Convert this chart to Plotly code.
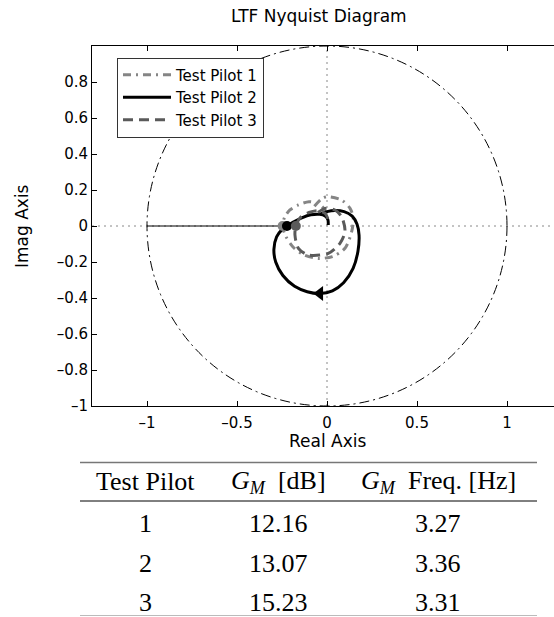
import plotly.graph_objects as go

# ---------------- data ----------------
pilots = ["Test Pilot 1", "Test Pilot 2", "Test Pilot 3"]

p1_re = [-0.07, -0.03, 0.00, 0.081, 0.128, 0.146, 0.137, 0.10, 0.03, -0.05, -0.13, -0.19, -0.23,
         -0.2466, -0.235, -0.206, -0.159, -0.10, -0.05, -0.02, -0.005]
p1_im = [0.11, 0.15, 0.163, 0.144, 0.098, 0.043, -0.031, -0.124, -0.17, -0.18, -0.16, -0.115, -0.055,
         0.0, 0.05, 0.089, 0.117, 0.135, 0.125, 0.10, 0.07]

p2_re = [-0.04, 0.00, 0.044, 0.095, 0.14, 0.167, 0.178, 0.172, 0.145, 0.092, 0.03, -0.04, -0.11, -0.18,
         -0.245, -0.285, -0.295, -0.28, -0.25, -0.2224, -0.19, -0.14, -0.09, -0.04, -0.01, 0.005, 0.007]
p2_im = [0.066, 0.08, 0.086, 0.08, 0.055, 0.01, -0.05, -0.14, -0.235, -0.315, -0.36, -0.375, -0.365, -0.335,
         -0.275, -0.20, -0.13, -0.06, -0.02, 0.0, 0.02, 0.045, 0.062, 0.065, 0.055, 0.035, 0.006]

p3_re = [-0.05, -0.011, 0.044, 0.081, 0.10, 0.072, 0.007, -0.104, -0.159, -0.178, -0.1731,
         -0.15, -0.10, -0.05, -0.01, 0.005]
p3_im = [0.075, 0.098, 0.089, 0.052, -0.031, -0.096, -0.152, -0.161, -0.124, -0.05, 0.0,
         0.045, 0.075, 0.085, 0.07, 0.04]

cross_re = [-0.2466, -0.2224, -0.1731]   # gain-margin crossings
arrow_re = [-0.04]
arrow_im = [-0.375]

x_tickvals = [-1, -0.5, 0, 0.5, 1]
x_ticktext = ["\u20131", "\u20130.5", "0", "0.5", "1"]
y_tickvals = [-1, -0.8, -0.6, -0.4, -0.2, 0, 0.2, 0.4, 0.6, 0.8]
y_ticktext = ["\u20131", "\u20130.8", "\u20130.6", "\u20130.4", "\u20130.2", "0", "0.2", "0.4", "0.6", "0.8"]

table_header = ["Test Pilot", "<i>G</i><sub><i>M</i></sub>  [dB]", "<i>G</i><sub><i>M</i></sub>  Freq. [Hz]"]
tbl_pilot = ["1", "2", "3"]
tbl_gm_db = ["12.16", "13.07", "15.23"]
tbl_gm_hz = ["3.27", "3.36", "3.31"]

# ---------------- styles ----------------
colors = ["#858585", "#000000", "#5a5a5a"]
dashes = ["8px,5px,2px,5px", "solid", "10px,6px"]
W, H = 554, 617
L, T, PW, PH = 92, 46, 462, 360

def px(xp):
    return (xp - L) / PW

def py(yp):
    return (T + PH - yp) / PH

fig = go.Figure()

# gain margin line from -1 to the outermost crossing
fig.add_trace(go.Scatter(x=[-1, min(cross_re)], y=[0, 0], mode="lines",
                         line=dict(color="black", width=1),
                         showlegend=False, hoverinfo="skip"))

for name, xr, yi, col, dsh in zip(pilots, [p1_re, p2_re, p3_re], [p1_im, p2_im, p3_im], colors, dashes):
    fig.add_trace(go.Scatter(x=xr, y=yi, mode="lines", name=name,
                             line=dict(color=col, width=3, dash=dsh, shape="spline", smoothing=0.8)))

for c, col in zip(cross_re, colors):
    fig.add_trace(go.Scatter(x=[c], y=[0], mode="markers", showlegend=False,
                             marker=dict(color=col, size=10, line=dict(width=0))))

fig.add_trace(go.Scatter(x=arrow_re, y=arrow_im, mode="markers", showlegend=False,
                         marker=dict(symbol="triangle-left", color="black", size=13, line=dict(width=0))))

shapes = [
    dict(type="circle", xref="x", yref="y", x0=-1, y0=-1, x1=1, y1=1,
         line=dict(color="black", width=1, dash="10px,4px,2px,4px"), layer="below"),
    dict(type="line", xref="x", yref="paper", x0=0, x1=0, y0=0, y1=1,
         line=dict(color="#888", width=1, dash="2px,4px"), layer="below"),
    dict(type="line", xref="paper", yref="y", x0=0, x1=1, y0=0, y1=0,
         line=dict(color="#888", width=1, dash="2px,4px"), layer="below"),
    # table rules
    dict(type="line", xref="paper", yref="paper", x0=px(80), x1=px(537), y0=py(462.5), y1=py(462.5),
         line=dict(color="#777", width=1.6)),
    dict(type="line", xref="paper", yref="paper", x0=px(80), x1=px(537), y0=py(501), y1=py(501),
         line=dict(color="black", width=1)),
    dict(type="line", xref="paper", yref="paper", x0=px(80), x1=px(537), y0=py(615.5), y1=py(615.5),
         line=dict(color="#bbb", width=1)),
]

ann = []
sans = "DejaVu Sans"
ann.append(dict(text="LTF Nyquist Diagram", x=px(319), y=py(16), xref="paper", yref="paper",
                showarrow=False, font=dict(family=sans, size=17, color="black"), xanchor="center", yanchor="middle"))
ann.append(dict(text="Real Axis", x=px(327), y=py(441), xref="paper", yref="paper",
                showarrow=False, font=dict(family=sans, size=17, color="black"), xanchor="center", yanchor="middle"))
ann.append(dict(text="Imag Axis", x=px(22), y=py(226), xref="paper", yref="paper", textangle=-90,
                showarrow=False, font=dict(family=sans, size=17, color="black"), xanchor="center", yanchor="middle"))

serif = dict(family="Liberation Serif", size=26, color="black")
col_x = [145, 278, 438]
ann += [dict(text=t, x=px(cx), y=py(482), xref="paper", yref="paper", showarrow=False, font=serif,
             xanchor="center", yanchor="middle") for t, cx in zip(table_header, col_x)]
row_y = [523, 563, 602]
for i in range(3):
    for vals, cx in zip([tbl_pilot, tbl_gm_db, tbl_gm_hz], col_x):
        ann.append(dict(text=vals[i], x=px(cx), y=py(row_y[i]), xref="paper", yref="paper",
                        showarrow=False, font=serif, xanchor="center", yanchor="middle"))

fig.update_layout(
    width=W, height=H,
    margin=dict(l=L, r=W - L - PW, t=T, b=H - T - PH, pad=0),
    paper_bgcolor="white", plot_bgcolor="white",
    font=dict(family=sans, size=15, color="black"),
    shapes=shapes, annotations=ann,
    legend=dict(x=px(117), y=py(57.5), xanchor="left", yanchor="top",
                bgcolor="white", bordercolor="#333", borderwidth=1,
                font=dict(family=sans, size=15, color="black"),
                itemwidth=48),
    xaxis=dict(range=[(L - 327) / 180, (L + PW - 327) / 180], tickvals=x_tickvals, ticktext=x_ticktext,
               showgrid=False, zeroline=False, showline=True, linecolor="black", linewidth=1,
               mirror="ticks", ticks="inside", ticklen=5, tickcolor="black", tickfont=dict(size=15),
               ticklabelstandoff=3),
    yaxis=dict(range=[-1, 1], tickvals=y_tickvals, ticktext=y_ticktext,
               showgrid=False, zeroline=False, showline=True, linecolor="black", linewidth=1,
               mirror=False, ticks="inside", ticklen=5, tickcolor="black", tickfont=dict(size=15)),
)

fig.write_html("out.html")
